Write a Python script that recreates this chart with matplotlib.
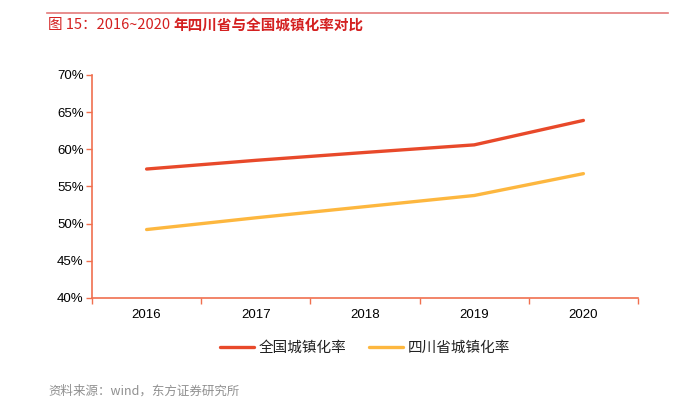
import matplotlib.pyplot as plt
import numpy as np

years = ['2016', '2017', '2018', '2019', '2020']
national = [57.35, 58.52, 59.58, 60.60, 63.89]
sichuan = [49.21, 50.79, 52.29, 53.79, 56.73]
yticks = [40, 45, 50, 55, 60, 65, 70]

cjk = ['Noto Sans CJK SC', 'DejaVu Sans']
spine_color = '#F0704F'

fig = plt.figure(figsize=(6.78, 3.99), dpi=100)
ax = fig.add_axes([92 / 678, 1 - 298 / 399, (638 - 92) / 678, (298 - 75) / 399])

x = np.arange(len(years))
ax.plot(x, national, color='#E8492A', linewidth=2.4, solid_capstyle='round', label='全国城镇化率')
ax.plot(x, sichuan, color='#FDB73F', linewidth=2.4, solid_capstyle='round', label='四川省城镇化率')

ax.set_xlim(-0.5, len(years) - 0.5)
ax.set_ylim(40, 70)
ax.set_yticks(yticks)
ax.set_yticklabels([f'{v}%' for v in yticks], fontsize=9.5, family='Liberation Sans')

# category axis: ticks on the boundaries, labels centred
ax.set_xticks(np.arange(len(years) + 1) - 0.5)
ax.set_xticklabels([])
ax.set_xticks(x, minor=True)
ax.set_xticklabels(years, minor=True, fontsize=9.5, family='Liberation Sans')
ax.tick_params(axis='x', which='minor', length=0, pad=8)
ax.tick_params(axis='x', which='major', length=4, color=spine_color, width=1)
ax.tick_params(axis='y', length=4, color=spine_color, width=1, pad=2)

for s in ['top', 'right']:
    ax.spines[s].set_visible(False)
for s in ['left', 'bottom']:
    ax.spines[s].set_color(spine_color)
    ax.spines[s].set_linewidth(1.2)

leg = ax.legend(loc='upper center', bbox_to_anchor=(0.5, -0.135), ncol=2, frameon=False,
                prop={'family': cjk, 'size': 10.5}, handlelength=2.3, columnspacing=1.6,
                handletextpad=0.3)
for t in leg.get_texts():
    t.set_color('#222222')

# header
fig.add_artist(plt.Line2D([47 / 678, 668 / 678], [1 - 13 / 399] * 2, color='#E47A7A', linewidth=1.2))
t1 = fig.text(48 / 678, 1 - 25 / 399, '图 15：2016~2020 ', color='#D42020', fontsize=10.5,
              family=cjk, va='center')
fig.canvas.draw()
bb = t1.get_window_extent()
fig.text(bb.x1 / fig.bbox.width, 1 - 25 / 399, '年四川省与全国城镇化率对比', color='#D42020',
         fontsize=10.5, family=cjk, weight='bold', va='center')

fig.text(48 / 678, 1 / 399, '资料来源：wind，东方证券研究所', color='#909090', fontsize=9,
         family=cjk, va='bottom')

fig.savefig('out.png', dpi=100)
